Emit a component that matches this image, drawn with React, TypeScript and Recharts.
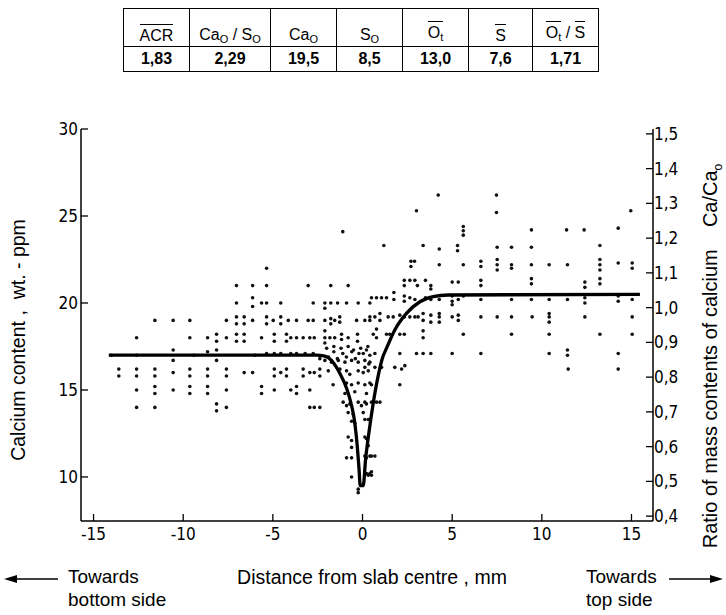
import { ScatterChart, Scatter, XAxis, YAxis } from "recharts";

// distance from slab centre (mm), Ca content (ppm)
const dotsBottomSide: [number, number][] = [
  [-5.35, 22],
  [-7.03, 21], [-6.13, 21], [-5.35, 21], [-3.03, 21],
  [-7.03, 20], [-6.13, 20.3], [-6.13, 19.8], [-5.63, 20], [-5.35, 20], [-4.56, 20], [-2.75, 20], [-2.1, 20], [-2.1, 19.7],
  [-11.58, 19], [-10.56, 19], [-9.63, 19], [-7.59, 19], [-7.03, 19.2], [-7.03, 18.8], [-6.6, 19.2], [-6.6, 18.8],
  [-6.13, 19], [-5.35, 19.2], [-5.35, 18.8], [-4.98, 19], [-4.56, 19.2], [-4.56, 18.8], [-4.14, 19], [-3.68, 19],
  [-3.03, 19], [-2.75, 19], [-2.1, 19],
  [-12.6, 18], [-9.63, 18], [-8.64, 18], [-8.14, 18.2], [-8.14, 17.8], [-7.59, 18], [-7.03, 18.2], [-7.03, 17.8],
  [-6.6, 18.2], [-6.6, 17.8], [-5.63, 18], [-4.92, 18.2], [-4.92, 17.8], [-4.24, 18.2], [-4.24, 17.8], [-4, 18],
  [-3.68, 18], [-3.31, 18], [-2.94, 18], [-2.69, 18], [-2.1, 18.4], [-2.1, 18], [-2.1, 17.7],
  [-14, 17], [-12.6, 17], [-10.56, 17.3], [-10.56, 16.7], [-9.4, 17], [-8.64, 17.2], [-8.14, 17.3], [-8.14, 16.7],
  [-6, 17], [-5.35, 17.1], [-4.92, 17.1], [-4.56, 17.1], [-4, 17.1], [-3.68, 17.1], [-3.2, 17.1], [-2.75, 17.1], [-2.38, 16.8],
  [-13.59, 16.2], [-13.59, 15.8], [-12.6, 16.2], [-12.6, 15.8], [-11.58, 16.2], [-11.58, 15.8], [-10.56, 16],
  [-9.63, 16.2], [-9.63, 15.8], [-8.64, 16.2], [-8.64, 15.8], [-7.59, 16.2], [-7.59, 15.8], [-6.6, 16], [-6.13, 16],
  [-4.92, 16.2], [-4.92, 15.8], [-4.56, 16], [-4.24, 16.2], [-4.24, 15.8], [-3.31, 16.2], [-3.31, 15.8], [-2.94, 16],
  [-2.69, 16], [-2.38, 16.2], [-2.38, 15.8],
  [-12.6, 15], [-11.58, 15.2], [-11.58, 14.8], [-10.56, 15], [-9.63, 15.2], [-9.63, 14.8], [-8.64, 15.2], [-8.64, 14.8],
  [-7.59, 15], [-5.63, 15.2], [-5.63, 14.8], [-4.92, 15], [-4, 15], [-3.68, 15.2], [-3.68, 14.8], [-2.94, 15],
  [-12.6, 14], [-11.58, 14], [-8.14, 14.2], [-8.14, 13.8], [-7.59, 14], [-2.94, 14], [-2.69, 14], [-2.38, 14],
];

const dotsCentre: [number, number][] = [
  [-1.1, 24.1], [1.19, 23.3], [3.01, 25.3],
  [-1.77, 21], [-0.8, 21],
  [-1.77, 20], [-1.39, 20], [-0.89, 20], [-0.24, 20], [0.41, 20],
  [-1.77, 19.1], [-1.77, 18.8], [-1.55, 19], [-1.27, 19.2], [-1.27, 18.9], [-0.33, 19], [0.13, 19], [0.41, 19],
  [-1.82, 18], [-1.55, 18], [-1.17, 18.2], [-1.17, 17.9], [-0.8, 18], [-0.28, 18.2], [-0.28, 17.8],
  [-2, 17.4], [-1.6, 17.5], [-1.2, 17.4], [-0.8, 17.5], [-0.5, 17.3], [-0.1, 17.4], [0.3, 17.5],
  [-1.9, 16.9], [-1.6, 17.2], [-1.4, 16.8], [-1.1, 17.1], [-0.9, 16.9], [-0.6, 17.2], [-0.4, 16.8], [-0.2, 17.1],
  [-2.1, 16.7], [-1.73, 16.6], [-1.35, 16.7], [-0.98, 16.6], [-0.61, 16.7], [-0.24, 16.6], [0.13, 16.7], [0.41, 16.6],
  [-1.91, 16.1], [-1.26, 16.2], [-0.89, 16.1], [-0.71, 15.9], [-0.24, 16.1], [0.04, 16], [0.32, 16.1],
  [-1.64, 15.3], [-0.89, 15.4], [-0.61, 15.3], [-0.24, 15.4], [0.13, 15.3], [0.41, 15.4],
  [-0.98, 14.8], [-0.43, 14.9], [0.22, 14.8],
  [-1.08, 14.3], [-0.89, 14.1], [-0.71, 14.2], [-0.24, 14.3], [-0.06, 14.1], [0.22, 14.2],
  [-0.8, 13.7], [-0.52, 13.6], [0.04, 13.7],
  [-0.61, 13.2], [-0.43, 13.1], [0.32, 13.3],
  [-0.8, 12.3], [-0.61, 12.1], [0.22, 12.2],
  [-0.61, 11.7], [0.32, 11.8],
  [-0.89, 11.1], [-0.61, 11.1], [0.22, 11.1], [0.41, 11.2],
  [-0.61, 10], [0.32, 10.1], [0.5, 10.1],
  [-0.24, 9.3], [-0.24, 9.1],
  [0.13, 16.3], [0.69, 16.3], [1.06, 16.3], [1.8, 16.3], [2.18, 16.2], [2.36, 16.4],
  [0.5, 15.3], [2.08, 15.3],
  [0.13, 14.3], [0.5, 14.3], [0.78, 14.3], [0.97, 14.3],
  [0.13, 13.3], [0.41, 13.3],
  [0.13, 12.3],
  [0.13, 11.2], [0.5, 11.2], [0.69, 11.2],
  [0.22, 10.2], [0.41, 10.2], [0.5, 10.3],
  [0.04, 9.6],
  [2.7, 22.4], [2.7, 22.1], [2.9, 22.4],
  [2.33, 21.3], [2.33, 21], [2.64, 21.3], [2.92, 21.3], [3.06, 21], [3.51, 21.3], [3.81, 21], [3.81, 20.8],
  [0.5, 20.3], [0.78, 20.3], [1.06, 20.3], [1.34, 20.3], [1.75, 20.6], [1.75, 20.2], [2.33, 20.4], [2.33, 20.1],
  [2.64, 20.3], [2.92, 20.2], [3.51, 20.3], [3.81, 20.2],
  [0.41, 19.2], [0.69, 19.2], [0.97, 19.4], [0.97, 19], [1.43, 19.2], [1.71, 19.2], [2.08, 19.3], [2.33, 19.2],
  [2.64, 19.2], [2.92, 19.2], [3.1, 19.2], [3.38, 19.4], [3.38, 19], [3.81, 19.3], [3.81, 18.9],
  [0.6, 18.2], [0.78, 18.5], [0.78, 18], [1.34, 18.2], [1.52, 18.2], [2.08, 18.2], [2.33, 18.2], [3.38, 18.4], [3.38, 18],
  [0.04, 17.1], [0.22, 17.3], [0.41, 17], [0.69, 17.1], [2.08, 17.1], [3.01, 17.1], [3.38, 17.1], [3.81, 17.1],
  [0.35, 16.5],
];

const dotsTopSide: [number, number][] = [
  [4.22, 26.2], [7.47, 26.2],
  [7.47, 25.2], [14.96, 25.3],
  [5.62, 24.4], [5.62, 24.15], [5.62, 23.9], [9.42, 24.2], [11.38, 24.2], [12.36, 24.2], [14.26, 24.3],
  [3.38, 23.3], [4.28, 23.1], [5.3, 23.3], [5.3, 23], [7.51, 23.2], [8.31, 23.2], [9.42, 23.2], [13.24, 23.3],
  [4.28, 22.2], [5.62, 22.2], [6.6, 22.4], [6.6, 22.1], [7.51, 22.5], [7.51, 22.2], [7.51, 21.9], [8.31, 22.2],
  [8.31, 22], [9.42, 22.2], [10.41, 22.2], [11.43, 22.2], [13.24, 22.5], [13.24, 22.2], [13.24, 21.9], [14.26, 22.3],
  [15.04, 22.3], [15.04, 22],
  [5, 21.2], [5.34, 21.2], [6.6, 21.3], [6.6, 21], [9.42, 21.4], [9.42, 21.1], [12.4, 21.2], [12.4, 20.9],
  [13.24, 21.4], [13.24, 21.1],
  [4.28, 20.2], [5, 20.4], [5, 20.1], [5, 19.9], [5.34, 20.2], [5.62, 20.4], [6.6, 20.2], [8.31, 20.2], [9.42, 20.2],
  [10.41, 20.2], [11.43, 20.2], [12.4, 20.3], [12.4, 20], [14.26, 20.4], [14.26, 20.1], [15.04, 20.2],
  [4.28, 19.4], [4.28, 19.2], [4.28, 18.9], [5, 19.2], [5.34, 19.3], [5.34, 19], [6.6, 19.2], [7.51, 19.2],
  [8.31, 19.2], [9.46, 19.2], [10.41, 19.4], [10.41, 19.2], [10.41, 18.9], [12.4, 19.2], [15.04, 19.2],
  [5.62, 18.2], [8.31, 18.2], [10.41, 18.2], [13.24, 18.2], [15.04, 18.2],
  [5, 17.1], [6.6, 17.1], [10.41, 17.1], [11.43, 17.3], [11.43, 17], [14.26, 17.1],
  [11.47, 16.2], [14.26, 16.2],
];

// fitted profile drawn through the dots
const profile: [number, number][] = [
  [-14.15, 17], [-2.6, 17], [-2.1, 16.95], [-1.73, 16.7], [-1.45, 16.3], [-1.26, 15.95], [-0.89, 15.1],
  [-0.61, 14.1], [-0.43, 13.1], [-0.28, 11.6], [-0.19, 10.4], [-0.13, 9.5], [0.04, 9.5], [0.17, 11.0],
  [0.35, 12.5], [0.59, 14.2], [0.87, 15.8], [1.1, 16.8], [1.34, 17.4], [1.8, 18.45], [2.45, 19.4],
  [3.2, 20.07], [3.94, 20.36], [4.78, 20.46], [15.47, 20.5],
];

const xTicks = [-15, -10, -5, 0, 5, 10, 15];
const caTicks = [10, 15, 20, 25, 30];
const ratioTicks = [0.4, 0.5, 0.6, 0.7, 0.8, 0.9, 1.0, 1.1, 1.2, 1.3, 1.4, 1.5];

const tableHead = ["ACR", "CaO/SO", "CaO", "SO", "Ot", "S", "Ot/S"];
const tableValues = ["1,83", "2,29", "19,5", "8,5", "13,0", "7,6", "1,71"];

const toPts = (a: [number, number][]) => a.map(([x, y]) => ({ x, y }));
const dots = [...toPts(dotsBottomSide), ...toPts(dotsCentre), ...toPts(dotsTopSide)];
const line = toPts(profile);

const narrow = "'Liberation Sans Narrow', 'DejaVu Sans Condensed', sans-serif";
const sans = "'Liberation Sans', Arial, sans-serif";

const LeftTick = ({ x, y, payload }: any) => (
  <g>
    <line x1={x} y1={y} x2={x + 7} y2={y} stroke="#000" strokeWidth={1.3} />
    <text x={x - 3} y={y + 6} textAnchor="end" fontFamily={narrow} fontSize={17} fill="#000">
      {payload.value}
    </text>
  </g>
);

const RightTick = ({ x, y, payload }: any) => (
  <g>
    <line x1={x - 7} y1={y} x2={x} y2={y} stroke="#000" strokeWidth={1.3} />
    <text x={x + 1} y={y + 6} textAnchor="start" fontFamily={narrow} fontSize={17} fill="#000">
      {payload.value.toFixed(1).replace(".", ",")}
    </text>
  </g>
);

const BottomTick = ({ x, y, payload }: any) => (
  <g>
    <line x1={x} y1={y} x2={x} y2={y - 7} stroke="#000" strokeWidth={1.3} />
    <text x={x} y={y + 19} textAnchor="middle" fontFamily={narrow} fontSize={17} fill="#000">
      {payload.value}
    </text>
  </g>
);

const Dot = (p: any) => <circle cx={p.cx} cy={p.cy} r={1.8} fill="#111" />;

const sub = (s: string) => <sub style={{ fontSize: 11, verticalAlign: -3 }}>{s}</sub>;
const bar = (c: any) => (
  <span style={{ display: "inline-block", borderTop: "1.5px solid #000", paddingTop: 3, lineHeight: "16px" }}>{c}</span>
);

function headCell(i: number) {
  switch (tableHead[i]) {
    case "ACR":
      return bar("ACR");
    case "CaO/SO":
      return <>Ca{sub("O")} / S{sub("O")}</>;
    case "CaO":
      return <>Ca{sub("O")}</>;
    case "SO":
      return <>S{sub("O")}</>;
    case "Ot":
      return bar(<>O{sub("t")}</>);
    case "S":
      return bar("S");
    default:
      return <>{bar(<>O{sub("t")}</>)} / {bar("S")}</>;
  }
}

const colW = [65, 80, 65, 65, 65, 63, 65];

export default function App() {
  const cell = { border: "1.5px solid #000", textAlign: "center" as const, padding: 0 };
  return (
    <div style={{ position: "absolute", left: 0, top: 0, width: 726, height: 615, background: "#fff", fontFamily: sans, color: "#000" }}>
      <table style={{ position: "absolute", left: 123, top: 8, borderCollapse: "collapse", fontSize: 16 }}>
        <tbody>
          <tr style={{ height: 38 }}>
            {tableHead.map((_, i) => (
              <td key={i} style={{ ...cell, width: colW[i], verticalAlign: "bottom", paddingBottom: 1 }}>
                {headCell(i)}
              </td>
            ))}
          </tr>
          <tr style={{ height: 25 }}>
            {tableValues.map((v, i) => (
              <td key={i} style={{ ...cell, fontWeight: "bold" }}>{v}</td>
            ))}
          </tr>
        </tbody>
      </table>

      <ScatterChart width={726} height={615} margin={{ top: 129, right: 0, bottom: 0, left: 0 }} style={{ position: "absolute", left: 0, top: 0 }}>
        <XAxis
          type="number"
          dataKey="x"
          domain={[-15.7, 16.2]}
          allowDataOverflow
          ticks={xTicks}
          height={94}
          tickSize={0}
          tickMargin={0}
          tick={<BottomTick />}
          axisLine={{ stroke: "#000", strokeWidth: 1.5 }}
        />
        <YAxis
          yAxisId="ca"
          type="number"
          dataKey="y"
          domain={[7.47, 30]}
          allowDataOverflow
          ticks={caTicks}
          width={81}
          tickSize={0}
          tickMargin={0}
          tick={<LeftTick />}
          axisLine={{ stroke: "#000", strokeWidth: 1.5 }}
        />
        <YAxis
          yAxisId="ratio"
          orientation="right"
          type="number"
          domain={[0.386, 1.514]}
          allowDataOverflow
          ticks={ratioTicks}
          width={73}
          tickSize={0}
          tickMargin={0}
          tick={<RightTick />}
          axisLine={{ stroke: "#000", strokeWidth: 1.5 }}
        />
        <Scatter yAxisId="ca" data={dots} shape={<Dot />} isAnimationActive={false} />
        <Scatter
          yAxisId="ca"
          data={line}
          line={{ stroke: "#000", strokeWidth: 3.3 }}
          lineJointType="monotoneX"
          shape={() => <g />}
          isAnimationActive={false}
        />
      </ScatterChart>

      <div style={{ position: "absolute", left: 18, top: 340, transform: "translate(-50%, -50%) rotate(-90deg)", whiteSpace: "nowrap", fontSize: 19.5 }}>
        Calcium content ,&nbsp; wt. - ppm
      </div>
      <div style={{ position: "absolute", left: 712, top: 356, transform: "translate(-50%, -50%) rotate(-90deg)", whiteSpace: "nowrap", fontSize: 20 }}>
        Ratio of mass contents of calcium&nbsp;&nbsp;&nbsp; Ca/Ca<sub style={{ fontSize: 12 }}>o</sub>
      </div>

      <div style={{ position: "absolute", left: 68, top: 566, fontSize: 19 }}>Towards</div>
      <div style={{ position: "absolute", left: 68, top: 589, fontSize: 19 }}>bottom side</div>
      <div style={{ position: "absolute", left: 372, top: 566, transform: "translateX(-50%)", whiteSpace: "nowrap", fontSize: 19.5 }}>
        Distance from slab centre , mm
      </div>
      <div style={{ position: "absolute", left: 586, top: 566, fontSize: 19 }}>Towards</div>
      <div style={{ position: "absolute", left: 586, top: 589, fontSize: 19 }}>top side</div>
      <svg width={726} height={615} style={{ position: "absolute", left: 0, top: 0, pointerEvents: "none" }}>
        <line x1={14} y1={579} x2={58} y2={579} stroke="#000" strokeWidth={1.5} />
        <path d="M4 579 L17 575 L17 583 Z" fill="#000" />
        <line x1={669} y1={579} x2={711} y2={579} stroke="#000" strokeWidth={1.5} />
        <path d="M723 579 L710 575 L710 583 Z" fill="#000" />
      </svg>
    </div>
  );
}
